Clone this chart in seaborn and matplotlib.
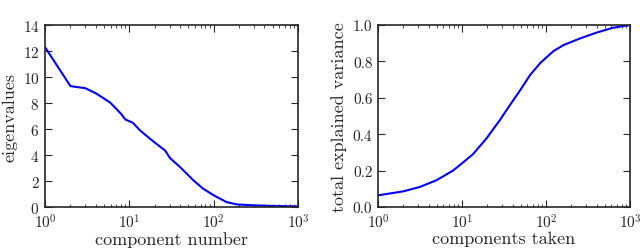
import numpy as np
import pandas as pd
import matplotlib
matplotlib.use("Agg")
import matplotlib.pyplot as plt
import seaborn as sns

# eigenvalue spectrum
comp_num = [1, 2, 3, 4, 5, 6, 7, 8, 9, 11, 13.4, 17.6, 22, 26.5, 30.4, 40, 57.5, 75, 100, 142, 187, 295, 500, 1000]
eigvals = [12.3, 9.3, 9.14, 8.75, 8.35, 8.0, 7.55, 7.15, 6.73, 6.48, 5.89, 5.25, 4.75, 4.35, 3.76, 3.07, 2.05, 1.41, 0.9, 0.38, 0.2, 0.13, 0.08, 0.05]

# cumulative explained variance (right panel)
comp_taken = [1, 2, 3.14, 4.96, 7.8, 10, 13.5, 19.5, 28.2, 37.2, 49, 64.6, 85, 100, 123, 162, 257, 398, 630, 1000]
expl_var = [0.064, 0.086, 0.11, 0.147, 0.20, 0.24, 0.29, 0.376, 0.477, 0.56, 0.64, 0.725, 0.79, 0.82, 0.857, 0.89, 0.927, 0.958, 0.985, 1.0]

sns.set_style("ticks")
plt.rcParams["font.family"] = ["cmr10", "DejaVu Serif"]
plt.rcParams["mathtext.fontset"] = "cm"
plt.rcParams["axes.formatter.use_mathtext"] = True
plt.rcParams["axes.unicode_minus"] = False

fig = plt.figure(figsize=(6.4, 2.53), dpi=100)
ax1 = fig.add_axes([45 / 640, 45 / 253, 253 / 640, 182 / 253])
ax2 = fig.add_axes([378 / 640, 45 / 253, 252 / 640, 182 / 253])

df1 = pd.DataFrame({"component number": comp_num, "eigenvalues": eigvals})
df2 = pd.DataFrame({"components taken": comp_taken, "total explained variance": expl_var})

sns.lineplot(data=df1, x="component number", y="eigenvalues", ax=ax1, color="blue", lw=1.5)
sns.lineplot(data=df2, x="components taken", y="total explained variance", ax=ax2, color="blue", lw=1.5)

for ax in (ax1, ax2):
    ax.set_xscale("log")
    ax.set_xlim(1, 1000)
    ax.tick_params(which="both", direction="in", top=True, right=True, labelsize=11, pad=4)
    ax.tick_params(which="major", length=5, width=0.8)
    ax.tick_params(which="minor", length=2.5, width=0.6)
    for s in ax.spines.values():
        s.set_linewidth(1.2)
    ax.xaxis.label.set_size(13)
    ax.yaxis.label.set_size(13)
    ax.xaxis.labelpad = 0
    ax.yaxis.labelpad = 4

ax1.set_ylim(0, 14)
ax1.set_yticks(range(0, 15, 2))
ax2.set_ylim(0, 1.0)
ax2.set_yticks([0, 0.2, 0.4, 0.6, 0.8, 1.0])
ax2.set_yticklabels(["0.0", "0.2", "0.4", "0.6", "0.8", "1.0"])

fig.savefig("out.png", dpi=100)
